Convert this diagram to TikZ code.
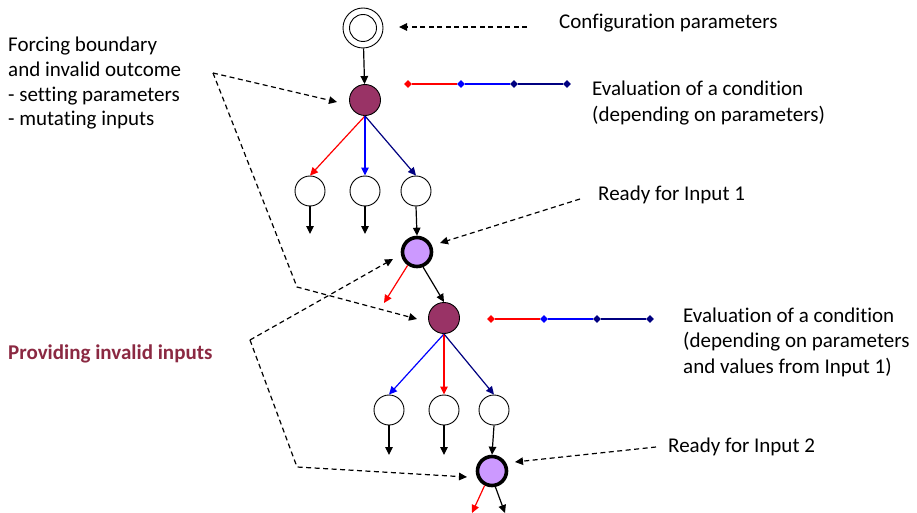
\documentclass[tikz,border=0pt]{standalone}
\usepackage{fontspec}
\setmainfont[Ligatures=NoCommon]{Carlito}
\usetikzlibrary{arrows.meta,shapes.geometric}
\definecolor{plumc}{HTML}{993366}
\definecolor{lilacc}{HTML}{CC99FF}
\definecolor{navyc}{HTML}{000080}
\definecolor{txtred}{HTML}{8B2942}
\begin{document}
\begin{tikzpicture}[x=1pt,y=-1pt,
  tipst/.style={-{Triangle[length=8pt,width=7.5pt]}},
  conn/.style={line width=1.2pt, tipst},
  dashconn/.style={line width=1.2pt, dash pattern=on 5pt off 3.5pt, tipst},
  leaf/.style={circle, draw, line width=0.9pt, minimum size=30pt, inner sep=0pt},
  cond/.style={circle, draw, fill=plumc, line width=0.9pt, minimum size=31pt, inner sep=0pt},
  ready/.style={circle, draw, fill=lilacc, line width=3.6pt, minimum size=29pt, inner sep=0pt},
  mk/.style={diamond, fill=#1, inner sep=0pt, minimum size=8pt},
  seg/.style={line width=1.4pt, draw=#1},
  lbl/.style={anchor=base west, inner sep=0pt, font=\fontsize{21}{25}\selectfont},
]
\useasboundingbox (0,0) rectangle (917,513);

% start node
\node[circle, draw, line width=0.9pt, minimum size=40pt, inner sep=0pt] (cfg) at (363,28) {};
\draw[line width=0.9pt] (cfg.center) circle[radius=13.5pt];

% first condition
\node[cond] (c1) at (365,100) {};
\draw[conn] (cfg) -- (c1);

\node[mk=red]   (d11) at (408,84) {};
\node[mk=blue]  (d12) at (461,84) {};
\node[mk=navyc] (d13) at (514,84) {};
\node[mk=navyc] (d14) at (567,84) {};
\draw[seg=red]   (d11) -- (d12);
\draw[seg=blue]  (d12) -- (d13);
\draw[seg=navyc] (d13) -- (d14);

\node[leaf] (a1) at (310,191) {};
\node[leaf] (a2) at (365,191) {};
\node[leaf] (a3) at (416,191) {};
\draw[conn, red]   (c1.south) -- (a1.north);
\draw[conn, blue]  (c1.south) -- (a2.north);
\draw[conn, navyc] (c1.south) -- (a3.north);
\coordinate (s1) at (310,234);
\coordinate (s2) at (365,234);
\draw[conn] (a1.south) -- (s1);
\draw[conn] (a2.south) -- (s2);

% first input
\node[ready] (p1) at (417,252) {};
\draw[conn] (a3.south) -- (p1.north);
\coordinate (r1) at (384,303);
\draw[conn, red] (p1.235) -- (r1);

% second condition
\node[cond] (c2) at (444,318) {};
\draw[conn] (p1.292) -- (c2.north);

\node[mk=red]   (d21) at (491,319) {};
\node[mk=blue]  (d22) at (544,319) {};
\node[mk=navyc] (d23) at (597,319) {};
\node[mk=navyc] (d24) at (650,319) {};
\draw[seg=red]   (d21) -- (d22);
\draw[seg=blue]  (d22) -- (d23);
\draw[seg=navyc] (d23) -- (d24);

\node[leaf] (b1) at (389,410) {};
\node[leaf] (b2) at (444,410) {};
\node[leaf] (b3) at (494,410) {};
\draw[conn, blue]  (c2.south) -- (b1.north);
\draw[conn, red]   (c2.south) -- (b2.north);
\draw[conn, navyc] (c2.south) -- (b3.north);
\coordinate (t1) at (389,455);
\coordinate (t2) at (444,455);
\draw[conn] (b1.south) -- (t1);
\draw[conn] (b2.south) -- (t2);

% second input
\node[ready] (p2) at (492,471) {};
\draw[conn] (b3.south) -- (p2.north);
\coordinate (e1) at (472,513);
\coordinate (e2) at (505,513);
\draw[conn, red] (p2.243) -- (e1);
\draw[conn] (p2.282) -- (e2);

% labels
\node[lbl] (tcfg) at (559,29) {Configuration parameters};
\node[lbl] (tev1a) at (592,96) {Evaluation of a condition};
\node[lbl] (tev1b) at (592,121.5) {(depending on parameters)};
\node[lbl] (tf1) at (8,52) {Forcing boundary};
\node[lbl] (tf2) at (8,76.7) {and invalid outcome};
\node[lbl] (tf3) at (8,101.4) {- setting parameters};
\node[lbl] (tf4) at (8,126) {- mutating inputs};
\node[lbl] (trd1) at (598,200) {Ready for Input 1};
\node[lbl, font=\fontsize{21}{25}\selectfont\bfseries, text=txtred] (tprov) at (8,359) {Providing invalid inputs};
\node[lbl] (tev2a) at (683,322) {Evaluation of a condition};
\node[lbl] (tev2b) at (683,347.5) {(depending on parameters};
\node[lbl] (tev2c) at (683,373) {and values from Input 1)};
\node[lbl] (trd2) at (668,452) {Ready for Input 2};

% dashed pointers
\coordinate (cfgS) at (527,27);
\coordinate (cfgE) at (399,27);
\draw[dashconn] (cfgS) -- (cfgE);

\coordinate (fA) at (213,73);
\coordinate (fT1) at (337,102);
\coordinate (fB) at (297,287);
\coordinate (fT2) at (417,319);
\draw[dashconn] (fA) -- (fT1);
\draw[dashconn] (fA) -- (fB) -- (fT2);

\coordinate (gA) at (250,340);
\coordinate (gT1) at (393,259);
\coordinate (gB) at (297,467);
\coordinate (gT2) at (467,477);
\draw[dashconn] (gA) -- (gT1);
\draw[dashconn] (gA) -- (gB) -- (gT2);

\coordinate (rS1) at (580,199);
\coordinate (rE1) at (440,243);
\draw[dashconn] (rS1) -- (rE1);
\coordinate (rS2) at (656,447);
\coordinate (rE2) at (515,462);
\draw[dashconn] (rS2) -- (rE2);
\end{tikzpicture}
\end{document}
